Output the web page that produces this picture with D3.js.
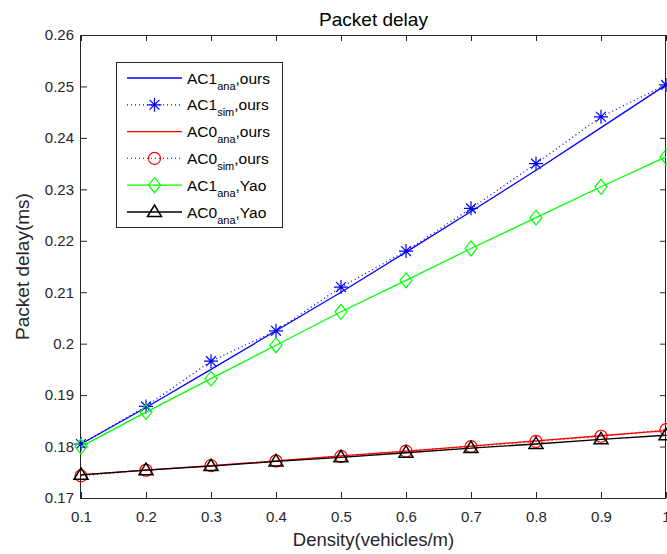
<!DOCTYPE html>
<html>
<head>
<meta charset="utf-8">
<script src="https://cdn.jsdelivr.net/npm/d3@7"></script>
<style>
  body { margin: 0; background: #fff; }
  text { font-family: "Liberation Sans", Arial, sans-serif; }
</style>
</head>
<body>
<script>
// chart data
var density = [0.1, 0.2, 0.3, 0.4, 0.5, 0.6, 0.7, 0.8, 0.9, 1.0];
var ac1AnaOurs = [0.1805, 0.1876, 0.1950, 0.2025, 0.2100, 0.2178, 0.2257, 0.2337, 0.2420, 0.2503];
var ac1SimOurs = [0.1805, 0.1878, 0.1966, 0.2025, 0.2110, 0.2180, 0.2263, 0.2350, 0.2441, 0.2503];
var ac0AnaOurs = [0.1745, 0.1754, 0.1763, 0.1772, 0.1782, 0.1791, 0.1801, 0.1811, 0.1821, 0.1831];
var ac0SimOurs = [0.1743, 0.1754, 0.1763, 0.1772, 0.1781, 0.1791, 0.1800, 0.1810, 0.1820, 0.1833];
var ac1AnaYao = [0.1800, 0.1867, 0.1932, 0.1997, 0.2062, 0.2123, 0.2185, 0.2245, 0.2305, 0.2363];
var ac0AnaYao = [0.1745, 0.1754, 0.1762, 0.1771, 0.1779, 0.1788, 0.1797, 0.1805, 0.1814, 0.1822];

var xTicks = [0.1, 0.2, 0.3, 0.4, 0.5, 0.6, 0.7, 0.8, 0.9, 1];
var yTicks = [0.17, 0.18, 0.19, 0.2, 0.21, 0.22, 0.23, 0.24, 0.25, 0.26];

var series = [
  { name: 'AC1', sub: 'ana', tail: ',ours', values: ac1AnaOurs, color: '#0000ff', dash: null, marker: 'none' },
  { name: 'AC1', sub: 'sim', tail: ',ours', values: ac1SimOurs, color: '#0000ff', dash: '1,3', marker: 'star' },
  { name: 'AC0', sub: 'ana', tail: ',ours', values: ac0AnaOurs, color: '#ff0000', dash: null, marker: 'none' },
  { name: 'AC0', sub: 'sim', tail: ',ours', values: ac0SimOurs, color: '#ff0000', dash: '1,3', marker: 'circle' },
  { name: 'AC1', sub: 'ana', tail: ',Yao', values: ac1AnaYao, color: '#00ff00', dash: null, marker: 'diamond' },
  { name: 'AC0', sub: 'ana', tail: ',Yao', values: ac0AnaYao, color: '#000000', dash: null, marker: 'triangle' }
];

var width = 667, height = 554;
var margin = { left: 81, right: 1, top: 35, bottom: 56 };

var svg = d3.select('body').append('svg')
  .attr('width', width)
  .attr('height', height);

var x = d3.scaleLinear().domain([0.1, 1]).range([margin.left, width - margin.right]);
var y = d3.scaleLinear().domain([0.17, 0.26]).range([height - margin.bottom, margin.top]);

var axisColor = '#262626';
var fmtY = function(d) { return d3.format('.2~f')(d); };

// axes with inward ticks, box on
svg.append('g')
  .attr('transform', 'translate(0,' + y(0.17) + ')')
  .call(d3.axisBottom(x).tickValues(xTicks).tickSize(-6).tickPadding(13).tickFormat(d3.format('~g')))
  .call(function(g) { g.select('.domain').remove(); });

svg.append('g')
  .attr('transform', 'translate(0,' + y(0.26) + ')')
  .call(d3.axisTop(x).tickValues(xTicks).tickSize(-6).tickFormat(''))
  .call(function(g) { g.select('.domain').remove(); });

svg.append('g')
  .attr('transform', 'translate(' + x(0.1) + ',0)')
  .call(d3.axisLeft(y).tickValues(yTicks).tickSize(-6).tickPadding(7).tickFormat(fmtY))
  .call(function(g) { g.select('.domain').remove(); });

svg.append('g')
  .attr('transform', 'translate(' + x(1) + ',0)')
  .call(d3.axisRight(y).tickValues(yTicks).tickSize(-6).tickFormat(''))
  .call(function(g) { g.select('.domain').remove(); });

svg.selectAll('.tick line').attr('stroke', axisColor);
svg.selectAll('.tick text').attr('fill', axisColor).style('font-size', '15px');

svg.append('rect')
  .attr('x', x(0.1) - 0.5)
  .attr('y', y(0.26) + 0.5)
  .attr('width', x(1) - x(0.1))
  .attr('height', y(0.17) - y(0.26))
  .attr('fill', 'none')
  .attr('stroke', axisColor)
  .attr('stroke-width', 1);

// markers
var drawMarker = function(g, type, cx, cy, color) {
  if (type === 'star') {
    var r = 7;
    g.append('path')
      .attr('d', 'M' + (cx - r) + ',' + cy + 'H' + (cx + r) +
        'M' + cx + ',' + (cy - r) + 'V' + (cy + r) +
        'M' + (cx - r * 0.7) + ',' + (cy - r * 0.7) + 'L' + (cx + r * 0.7) + ',' + (cy + r * 0.7) +
        'M' + (cx - r * 0.7) + ',' + (cy + r * 0.7) + 'L' + (cx + r * 0.7) + ',' + (cy - r * 0.7))
      .attr('stroke', color).attr('stroke-width', 1.2).attr('fill', 'none');
  } else if (type === 'circle') {
    g.append('circle').attr('cx', cx).attr('cy', cy).attr('r', 6)
      .attr('stroke', color).attr('stroke-width', 1.2).attr('fill', 'none');
  } else if (type === 'diamond') {
    g.append('path')
      .attr('d', 'M' + cx + ',' + (cy - 7.5) + 'L' + (cx + 6) + ',' + cy + 'L' + cx + ',' + (cy + 7.5) + 'L' + (cx - 6) + ',' + cy + 'Z')
      .attr('stroke', color).attr('stroke-width', 1.2).attr('fill', 'none');
  } else if (type === 'triangle') {
    g.append('path')
      .attr('d', 'M' + cx + ',' + (cy - 7) + 'L' + (cx + 7) + ',' + (cy + 4.5) + 'L' + (cx - 7) + ',' + (cy + 4.5) + 'Z')
      .attr('stroke', color).attr('stroke-width', 1.5).attr('fill', 'none');
  }
};

var line = d3.line()
  .x(function(d, i) { return x(density[i]); })
  .y(function(d) { return y(d); });

var plot = svg.append('g');

series.forEach(function(s) {
  plot.append('path')
    .datum(s.values)
    .attr('d', line)
    .attr('fill', 'none')
    .attr('stroke', s.color)
    .attr('stroke-width', 1.3)
    .attr('stroke-dasharray', s.dash);
  s.values.forEach(function(v, i) {
    drawMarker(plot, s.marker, x(density[i]), y(v), s.color);
  });
});

// legend
var legend = svg.append('g');
legend.append('rect')
  .attr('x', 116.5).attr('y', 62.5)
  .attr('width', 166).attr('height', 165)
  .attr('fill', '#fff').attr('stroke', axisColor);

series.forEach(function(s, i) {
  var ly = 78 + i * 26.8;
  legend.append('line')
    .attr('x1', 127).attr('x2', 182)
    .attr('y1', ly).attr('y2', ly)
    .attr('stroke', s.color).attr('stroke-width', 1.3)
    .attr('stroke-dasharray', s.dash);
  drawMarker(legend, s.marker, 154.5, ly, s.color);
  var t = legend.append('text')
    .attr('x', 187).attr('y', ly + 5.5)
    .style('font-size', '15.5px').attr('fill', '#000');
  t.append('tspan').text(s.name);
  t.append('tspan').attr('dy', 6).style('font-size', '11px').text(s.sub);
  t.append('tspan').attr('dy', -6).text(s.tail);
});

// labels
svg.append('text')
  .attr('x', (x(0.1) + x(1)) / 2).attr('y', 26)
  .attr('text-anchor', 'middle')
  .style('font-size', '19px').attr('fill', '#000')
  .text('Packet delay');

svg.append('text')
  .attr('x', (x(0.1) + x(1)) / 2).attr('y', 546)
  .attr('text-anchor', 'middle')
  .style('font-size', '18.5px').attr('fill', axisColor)
  .text('Density(vehicles/m)');

svg.append('text')
  .attr('transform', 'translate(29,' + (y(0.215)) + ') rotate(-90)')
  .attr('text-anchor', 'middle')
  .style('font-size', '19px').attr('fill', axisColor)
  .text('Packet delay(ms)');
</script>
</body>
</html>
